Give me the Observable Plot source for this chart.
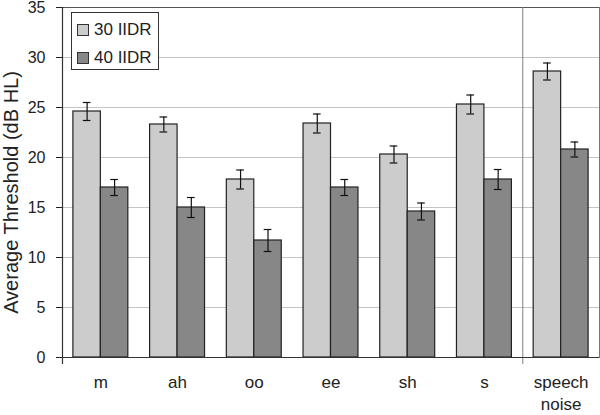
<!DOCTYPE html>
<html>
<head>
<meta charset="utf-8">
<script src="https://cdn.jsdelivr.net/npm/d3@7"></script>
<script src="https://cdn.jsdelivr.net/npm/@observablehq/plot@0.6"></script>
<style>
  html, body { margin: 0; padding: 0; background: #fff; }
  #wrap { position: relative; width: 600px; height: 415px; font-family: "Liberation Sans", Arial, sans-serif; }
  #legend { position: absolute; left: 71px; top: 12px; width: 88px; height: 58px; border: 1px solid #333; background: #fff; box-sizing: border-box; }
  #legend .item { position: absolute; left: 5px; display: flex; align-items: center; font-size: 17px; color: #222; white-space: nowrap; }
  #legend .sw { width: 12px; height: 12px; border: 1px solid #333; margin-right: 5px; box-sizing: border-box; }
</style>
</head>
<body>
<div id="wrap"><div id="chart"></div><div id="legend"></div></div>
<script>
// ---- data ----
const categories = ["m", "ah", "oo", "ee", "sh", "s", "speech\nnoise"];
const series = ["30 IIDR", "40 IIDR"];
const colors = ["#cccccc", "#878787"];
const iidr30 = [24.6, 23.3, 17.8, 23.4, 20.3, 25.3, 28.6];
const iidr40 = [17.0, 15.0, 11.7, 17.0, 14.6, 17.8, 20.8];
const err30 = [0.9, 0.75, 0.95, 0.95, 0.85, 0.95, 0.85];
const err40 = [0.8, 1.0, 1.1, 0.8, 0.85, 1.0, 0.75];
const yTicks = [0, 5, 10, 15, 20, 25, 30, 35];
const yTitle = "Average Threshold (dB HL)";
const separatorBefore = "speech\nnoise";

// ---- table ----
const values = [iidr30, iidr40];
const errs = [err30, err40];
const groupPad = 0.142;          // fraction of each category slot left empty at each side
const half = (1 - 2 * groupPad) / 2;
const capHalf = 0.05;
const rows = categories.flatMap((c, i) => series.map((s, j) => {
  const x1 = i + groupPad + j * half;
  return {cat: c, series: s, v: values[j][i], e: errs[j][i], x1, x2: x1 + half, xc: x1 + half / 2};
}));
const sepIndex = categories.indexOf(separatorBefore);

const plot = Plot.plot({
  width: 600,
  height: 415,
  marginLeft: 62,
  marginRight: 1,
  marginTop: 7,
  marginBottom: 58,
  style: {fontFamily: "Liberation Sans, Arial, sans-serif", fontSize: "16px", color: "#222", background: "#fff"},
  x: {domain: [0, categories.length], axis: null},
  y: {domain: [0, 35], ticks: yTicks, tickSize: 6, tickPadding: 11, label: null, tickFormat: d => String(d)},
  color: {domain: series, range: colors},
  marks: [
    Plot.ruleY(yTicks.filter(t => t > 0 && t < 35), {stroke: "#c4c4c4", strokeWidth: 1.2}),
    Plot.frame({stroke: "#777"}),
    Plot.ruleY([35], {stroke: "#555"}),
    Plot.ruleX([sepIndex], {stroke: "#808080", insetBottom: -7}),
    Plot.rectY(rows, {x1: "x1", x2: "x2", y: "v", fill: "series", stroke: "#222", strokeWidth: 1.2}),
    Plot.ruleX(rows, {x: "xc", y1: d => d.v - d.e, y2: d => d.v + d.e, stroke: "#111", strokeWidth: 1.2}),
    Plot.ruleY(rows, {y: d => d.v + d.e, x1: d => d.xc - capHalf, x2: d => d.xc + capHalf, stroke: "#111", strokeWidth: 1.2}),
    Plot.ruleY(rows, {y: d => d.v - d.e, x1: d => d.xc - capHalf, x2: d => d.xc + capHalf, stroke: "#111", strokeWidth: 1.2}),
    Plot.ruleY([0], {stroke: "#333", strokeWidth: 1.2}),
    Plot.ruleX([0], {stroke: "#333", strokeWidth: 1.2, insetBottom: -7}),
    Plot.text(categories, {x: (d, i) => i + 0.5, y: () => 0, text: d => d, lineAnchor: "top", dy: 15, fontSize: 17, lineHeight: 1.3, fill: "#222"}),
    Plot.text([yTitle], {text: d => d, frameAnchor: "left", textAnchor: "middle", lineAnchor: "middle", rotate: -90, dx: -51, dy: 10, fontSize: 20, fill: "#222"})
  ]
});
document.getElementById("chart").appendChild(plot);

// legend (HTML, over the plot)
const legend = document.getElementById("legend");
series.forEach((s, j) => {
  const item = document.createElement("div");
  item.className = "item";
  item.style.top = (j === 0 ? 7 : 35) + "px";
  const sw = document.createElement("div");
  sw.className = "sw";
  sw.style.background = colors[j];
  item.appendChild(sw);
  item.appendChild(document.createTextNode(s));
  legend.appendChild(item);
});
</script>
</body>
</html>
